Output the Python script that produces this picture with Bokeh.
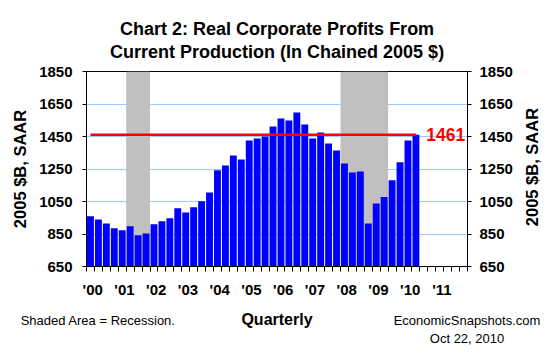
import math
from bokeh.plotting import figure
from bokeh.models import Range1d, LinearAxis, FixedTicker, Label
from bokeh.layouts import column
from bokeh.embed import file_html
from bokeh.resources import INLINE

# ---- data ----
profits = [960, 939, 915, 886, 873, 898, 843, 853, 910, 929, 947, 1009, 983, 1014, 1051,
           1105, 1243, 1272, 1333, 1308, 1425, 1438, 1450, 1512, 1561, 1548, 1598, 1524,
           1438, 1475, 1407, 1364, 1284, 1228, 1235, 915, 1038, 1077, 1181, 1292, 1425, 1461]
recession_start = [5, 32]   # quarter index (2001Q2, 2008Q1)
recession_end = [8, 38]     # quarter index (end of 2001Q4, end of 2009Q2)
latest_value = 1461
year_labels = ["'00", "'01", "'02", "'03", "'04", "'05", "'06", "'07", "'08", "'09", "'10", "'11"]
y_ticks = [650, 850, 1050, 1250, 1450, 1650, 1850]
title_lines = ["Chart 2: Real Corporate Profits From", "Current Production (In Chained 2005 $)"]
note_left = "Shaded Area = Recession."
note_right = "EconomicSnapshots.com\nOct 22, 2010"
y_title = "2005 $B, SAAR"
x_title = "Quarterly"

FONT = "Liberation Sans"
W = 555
BL, BR = 86, 88          # left / right borders of the plotting frame

# ---- header (title) ----
HEAD_H = 64
head = figure(width=W, height=HEAD_H, x_range=Range1d(BL, W - BR), y_range=Range1d(HEAD_H, 0),
              x_axis_type=None, y_axis_type=None, output_backend="svg", toolbar_location=None,
              min_border_left=BL, min_border_right=BR, min_border_top=0, min_border_bottom=0)
head.grid.visible = False
head.outline_line_color = None
for txt, yy in zip(title_lines, [28.3, 51.7]):
    head.add_layout(Label(x=276.6, y=yy, text=txt, text_align="center", text_baseline="alphabetic",
                          text_font=FONT, text_font_style="bold", text_font_size="18px",
                          text_color="black"))

# ---- main chart ----
p = figure(width=W, height=360 - HEAD_H,
           min_border_left=BL, min_border_right=BR, min_border_top=71 - HEAD_H, min_border_bottom=94,
           x_range=Range1d(0, 48), y_range=Range1d(650, 1850),
           output_backend="svg", toolbar_location=None)
p.background_fill_color = "white"
p.border_fill_color = "white"
p.outline_line_color = "black"
p.outline_line_width = 1

p.xgrid.visible = False
p.ygrid.ticker = FixedTicker(ticks=y_ticks)
p.ygrid.grid_line_color = "#99CCFF"
p.ygrid.grid_line_width = 1

p.quad(left=recession_start, right=recession_end, bottom=650, top=1850,
       fill_color="#C0C0C0", line_color=None)

xs = [i + 0.5 for i in range(len(profits))]
p.vbar(x=xs, top=profits, bottom=650, width=0.87, fill_color="#0000FF", line_color=None)

p.line(x=[xs[0], xs[-1]], y=[latest_value, latest_value], line_color="#FF0000", line_width=2.5)

p.add_layout(Label(x=42.8, y=latest_value, text=str(latest_value),
                   text_align="left", text_baseline="middle", text_font=FONT,
                   text_font_style="bold", text_font_size="17.5px", text_color="#FF0000"))


def style_y(ax, standoff):
    ax.ticker = FixedTicker(ticks=y_ticks)
    ax.major_label_text_font = FONT
    ax.major_label_text_font_style = "bold"
    ax.major_label_text_font_size = "15px"
    ax.major_label_text_color = "black"
    ax.major_tick_out = 4
    ax.major_tick_in = 0
    ax.minor_tick_line_color = None
    ax.major_label_standoff = standoff


# left axis
ya = p.yaxis[0]
style_y(ya, 10)
ya.axis_label = y_title
ya.axis_label_text_font = FONT
ya.axis_label_text_font_style = "bold"
ya.axis_label_text_font_size = "16.5px"
ya.axis_label_text_color = "black"
ya.axis_label_standoff = 7

# right axis (ticks)
ra = LinearAxis()
style_y(ra, 8)
p.add_layout(ra, "right")

# right axis title: a single rotated label, reading bottom-to-top
title_start = [898]
rt = LinearAxis(ticker=FixedTicker(ticks=title_start))
rt.major_label_overrides = {title_start[0]: y_title}
rt.major_label_orientation = math.pi / 2
rt.axis_line_color = None
rt.major_tick_line_color = None
rt.minor_tick_line_color = None
rt.major_tick_out = 0
rt.major_tick_in = 0
rt.major_label_standoff = 17
rt.major_label_text_font = FONT
rt.major_label_text_font_style = "bold"
rt.major_label_text_font_size = "16.5px"
rt.major_label_text_color = "black"
p.add_layout(rt, "right")

# bottom axis: quarter ticks + year labels + "Quarterly"
xa = p.xaxis[0]
year_pos = [4 * k + 0.78 for k in range(len(year_labels))]
xa.ticker = FixedTicker(ticks=year_pos, minor_ticks=list(range(49)))
xa.bounds = (-0.37, 47.63)
xa.major_label_overrides = {pos: lab for pos, lab in zip(year_pos, year_labels)}
xa.major_tick_line_color = None
xa.major_tick_out = 5
xa.major_tick_in = 0
xa.minor_tick_out = 5
xa.minor_tick_in = 0
xa.major_label_standoff = 9
xa.major_label_text_font = FONT
xa.major_label_text_font_style = "bold"
xa.major_label_text_font_size = "15px"
xa.major_label_text_color = "black"
xa.axis_label = x_title
xa.axis_label_text_font = FONT
xa.axis_label_text_font_style = "bold"
xa.axis_label_text_font_size = "16px"
xa.axis_label_text_color = "black"
xa.axis_label_standoff = 10

# footer notes as a label-only axis
note_pos = [1.47, 47.94]
na = LinearAxis(ticker=FixedTicker(ticks=note_pos))
na.major_label_overrides = {note_pos[0]: note_left, note_pos[1]: note_right}
na.axis_line_color = None
na.major_tick_line_color = None
na.minor_tick_line_color = None
na.major_tick_out = 0
na.major_tick_in = 0
na.major_label_standoff = -18
na.major_label_text_font = FONT
na.major_label_text_font_size = "13px"
na.major_label_text_color = "black"
p.add_layout(na, "below")

layout = column(head, p, spacing=0)
open("out.html", "w").write(file_html(layout, INLINE))
